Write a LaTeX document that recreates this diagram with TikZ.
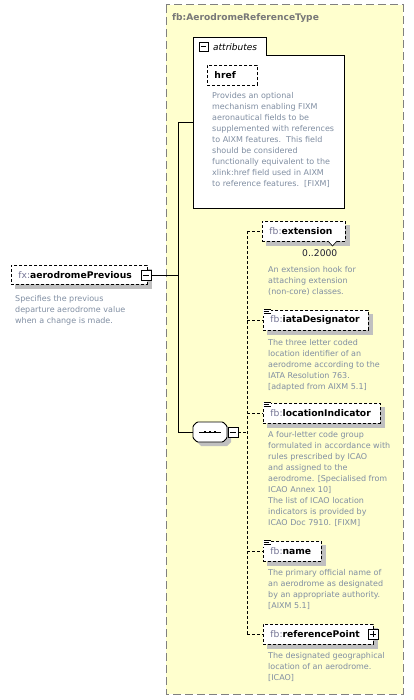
\documentclass[tikz,border=0pt]{standalone}
\usepackage{fontspec}
\setmainfont{DejaVu Sans}
\definecolor{ybg}{RGB}{255,255,206}
\definecolor{ybord}{RGB}{128,128,128}
\definecolor{pfx}{RGB}{118,118,150}
\definecolor{desc}{RGB}{128,142,162}
\definecolor{shd}{RGB}{192,192,192}
\definecolor{ttl}{RGB}{120,120,120}
\pgfdeclarelayer{ylayer}
\pgfdeclarelayer{slayer}
\pgfsetlayers{ylayer,slayer,main}
\begin{document}
\begin{tikzpicture}[x=1pt,y=-1pt,
  conn/.style={line width=0.9pt, black},
  dconn/.style={line width=0.9pt, black, dash pattern=on 3pt off 2pt},
  namebox/.style={draw, fill=white, line width=0.9pt, dash pattern=on 3pt off 2pt,
    anchor=north west, minimum height=20pt, inner xsep=7pt, inner ysep=0pt,
    text width=#1, align=left, font=\fontsize{9.2}{11}\selectfont},
  descr/.style={anchor=north west, inner sep=0pt, align=left, text=desc,
    font=\fontsize{8}{11}\selectfont},
  pmbox/.style={draw, solid, fill=white, line width=0.8pt, minimum size=10pt, inner sep=0pt},
  shadowfill/.style={fill=shd},
  docicon/.pic={\fill[white] (0,0) rectangle (8,7);
    \draw[line width=0.8pt] (0.5,1)--(7.5,1) (0.5,3)--(5.5,3) (0.5,5)--(7.5,5);}
]
\useasboundingbox (0,0) rectangle (414,700);

% outer type box
\begin{pgfonlayer}{ylayer}
\draw[fill=ybg, draw=ybord, line width=1pt, dash pattern=on 8pt off 4pt] (166,5) rectangle (403,694);
\end{pgfonlayer}
\node[anchor=base west, inner sep=0pt, text=ttl, font=\bfseries\fontsize{9.1}{11}\selectfont] (title) at (172,21) {fb:AerodromeReferenceType};

% attributes box
\draw[fill=white, line width=0.9pt] (193,208) -- (193,37) -- (266,37) -- (266,55) -- (344,55) -- (344,208) -- cycle;
\coordinate (attrw) at (193,122);
\node[pmbox, minimum size=9pt] (attrm) at (203.5,46.5) {};
\draw[line width=0.8pt] ([xshift=2pt]attrm.west) -- ([xshift=-2pt]attrm.east);
\node[anchor=west, inner sep=0pt, font=\itshape\fontsize{9}{11}\selectfont] (attrlbl) at (213,47) {attributes};

\node[namebox=36pt] (href) at (207,65) {\textbf{href}};
\node[descr] (hrefd) at (212,91.1) {\strut Provides an optional\\mechanism enabling FIXM\\aeronautical fields to be\\supplemented with references\\to AIXM features.\ \ This field\\should be considered\\functionally equivalent to the\\xlink:href field used in AIXM\\to reference features.\ \ [FIXM]};

% main element
\node[namebox=122pt, minimum height=19pt] (prev) at (11,265) {\textcolor{pfx}{fx:}\textbf{aerodromePrevious}};
\node[pmbox] (prevm) at (146,275) {};
\draw[line width=0.8pt] ([xshift=2pt]prevm.west) -- ([xshift=-2pt]prevm.east);
\node[descr] (prevd) at (15,293.1) {\strut Specifies the previous\\departure aerodrome value\\when a change is made.};

% sequence compositor
\node[minimum width=34pt, minimum height=20pt, inner sep=0pt] (seq) at (210,432) {};
\begin{pgfonlayer}{slayer}
\fill[shadowfill] (201,426) -- (227,426) -- (231,430) -- (231,442) -- (227,446) -- (201,446) -- (197,442) -- (197,430) -- cycle;
\end{pgfonlayer}
\draw[fill=white, line width=0.9pt, rounded corners=1pt] (197,422) -- (223,422) -- (227,426) -- (227,438) -- (223,442) -- (197,442) -- (193,438) -- (193,426) -- cycle;
\draw[line width=0.9pt] (199,432) -- (221,432);
\foreach \xx in {205,210,215} \fill (\xx-1.3,430.7) rectangle (\xx+1.3,433.3);
\node[pmbox] (seqm) at (233,432) {};
\draw[line width=0.8pt] ([xshift=2pt]seqm.west) -- ([xshift=-2pt]seqm.east);

% solid connectors
\coordinate (jtop) at (178,122);
\coordinate (jbot) at (178,432);
\draw[conn] (prevm.east) -- (prevm.east -| jtop);
\draw[conn] (jtop) -- (jbot);
\draw[conn] (jtop) -- (attrw);
\draw[conn] (jbot) -- (seq.west);

% children
\node[namebox=69pt] (ext) at (262,221) {\textcolor{pfx}{fb:}\textbf{extension}};
\node[anchor=west, inner sep=0pt, font=\fontsize{9.2}{11}\selectfont, text={rgb,255:red,30;green,30;blue,50}] (extocc) at (302,253) {0..2000};
\node[descr] (extd) at (268,264.1) {\strut An extension hook for\\attaching extension\\(non-core) classes.};

\node[namebox=91pt] (iata) at (263,310) {\textcolor{pfx}{fb:}\textbf{iataDesignator}};
\pic at (263,308.5) {docicon};
\node[descr] (iatad) at (268,337.1) {\strut The three letter coded\\location identifier of an\\aerodrome according to the\\IATA Resolution 763.\\{}[adapted from AIXM 5.1]};

\node[namebox=103pt] (loc) at (263,403) {\textcolor{pfx}{fb:}\textbf{locationIndicator}};
\pic at (263,401.5) {docicon};
\node[descr] (locd) at (268,429.1) {\strut A four-letter code group\\formulated in accordance with\\rules prescribed by ICAO\\and assigned to the\\aerodrome. [Specialised from\\ICAO Annex 10]\\The list of ICAO location\\indicators is provided by\\ICAO Doc 7910. [FIXM]};

\node[namebox=44pt] (name) at (263,541) {\textcolor{pfx}{fb:}\textbf{name}};
\pic at (263,539.5) {docicon};
\node[descr] (named) at (268,567.1) {\strut The primary official name of\\an aerodrome as designated\\by an appropriate authority.\\{}[AIXM 5.1]};

\node[namebox=96pt] (ref) at (263,624) {\textcolor{pfx}{fb:}\textbf{referencePoint}};
\node[pmbox] (refp) at (373,634) {};
\draw[line width=0.8pt] ([xshift=2pt]refp.west) -- ([xshift=-2pt]refp.east)
  ([yshift=-2pt]refp.north) -- ([yshift=2pt]refp.south);
\node[descr] (refd) at (268,650.1) {\strut The designated geographical\\location of an aerodrome.\\{}[ICAO]};

% shadows of the element boxes
\begin{pgfonlayer}{slayer}
\foreach \n in {href,prev,ext,iata,loc,name,ref}
  \fill[shadowfill] ([xshift=4pt,yshift=-4pt]\n.south west) rectangle ([xshift=4pt,yshift=-4pt]\n.north east);
\end{pgfonlayer}
% occurrence notch of extension
\draw[fill=white, line width=0.6pt, solid] (328,241) -- (332.5,246) -- (337,241);

% dashed connectors
\coordinate (vtop) at (247,231);
\coordinate (vbot) at (247,634);
\draw[dconn] (seqm.east) -- (seqm.east -| vtop);
\draw[dconn] (ext.west -| vtop) -- (vbot);
\draw[dconn] (ext.west -| vtop) -- (ext.west);
\draw[dconn] (iata.west -| vtop) -- (iata.west);
\draw[dconn] (loc.west -| vtop) -- (loc.west);
\draw[dconn] (name.west -| vtop) -- (name.west);
\draw[dconn] (ref.west -| vtop) -- (ref.west);
\end{tikzpicture}
\end{document}
